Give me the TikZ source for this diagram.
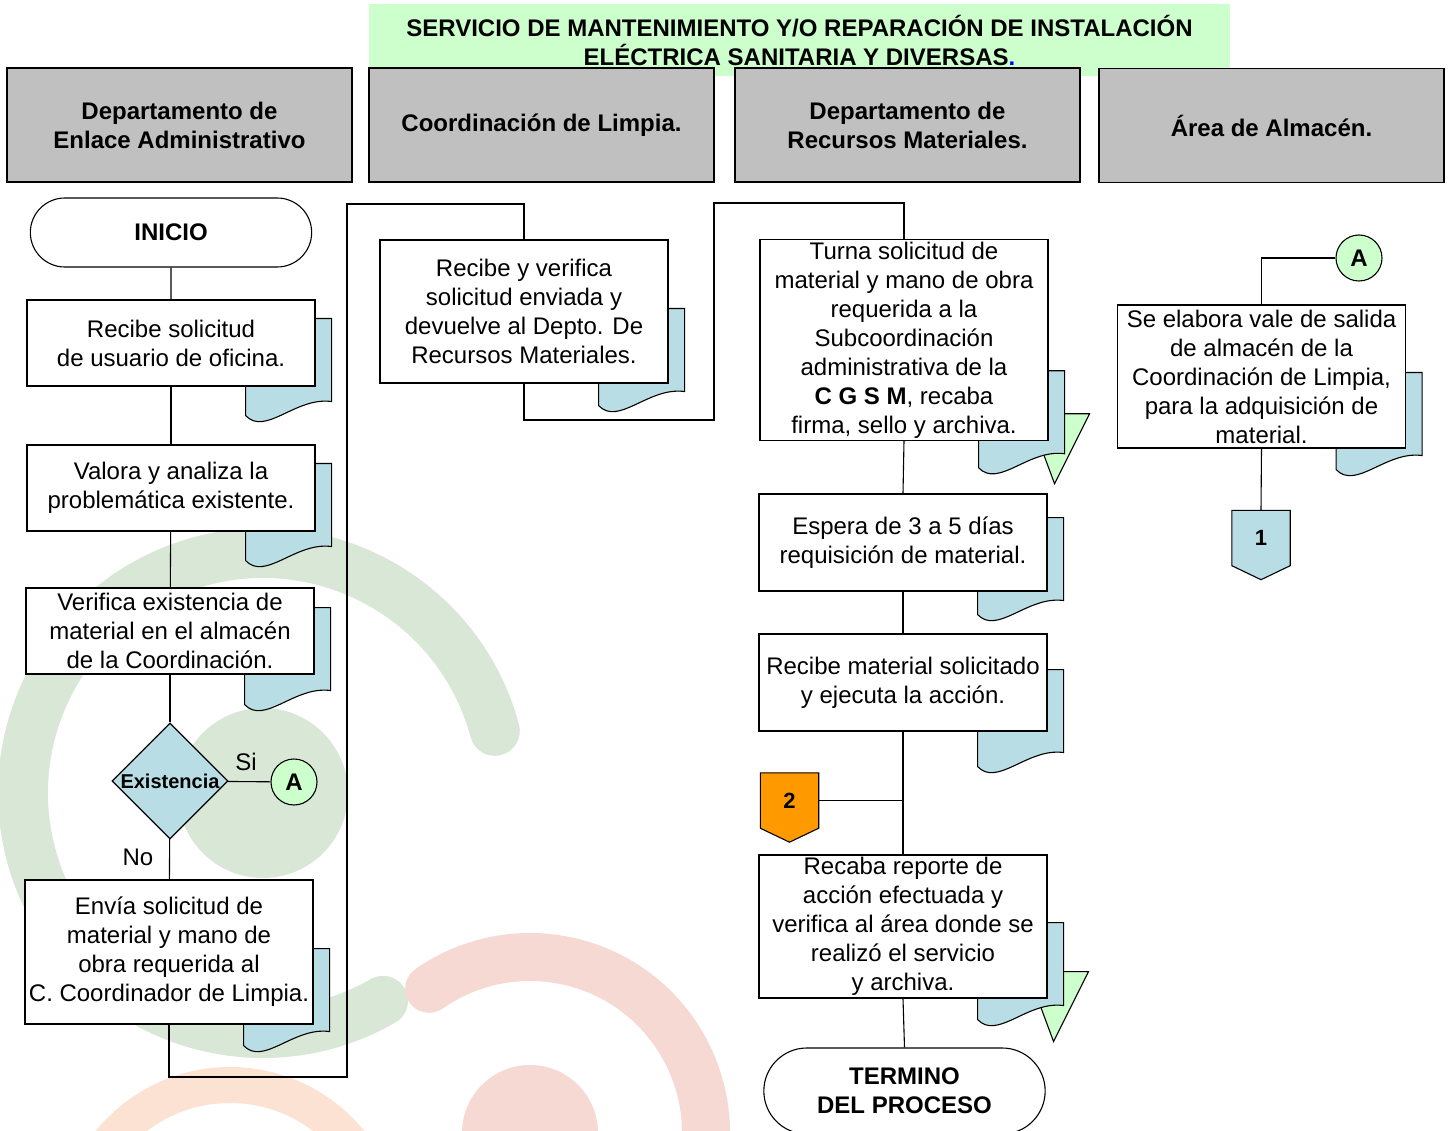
\documentclass[tikz,border=0pt]{standalone}
\usepackage{fontspec}
\setmainfont{Liberation Sans}
\usetikzlibrary{shapes.geometric,shapes.misc,calc}

\definecolor{mintbg}{HTML}{CCFFCC}
\definecolor{lanegray}{HTML}{C0C0C0}
\definecolor{sheetblue}{RGB}{185,221,228}
\definecolor{tagorange}{HTML}{FF9900}
\definecolor{wmgreen}{RGB}{217,231,215}
\definecolor{wmpink}{RGB}{246,217,211}
\definecolor{wmpeach}{RGB}{251,226,211}

\pgfdeclarelayer{watermark}
\pgfdeclarelayer{sheets}
\pgfsetlayers{watermark,sheets,main}

\newcommand{\bodyfont}{\fontsize{24}{29}\selectfont}

\begin{document}
\begin{tikzpicture}[x=1pt,y=-1pt,
  font=\bodyfont,
  every node/.style={align=center},
  titlebar/.style={fill=mintbg, minimum width=861pt, minimum height=72pt, inner sep=0pt, font=\bodyfont\bfseries},
  lane/.style={draw, fill=lanegray, line width=1.5pt, minimum width=345pt, minimum height=114pt, font=\bodyfont\bfseries},
  task/.style={draw, fill=white, line width=1.1pt, minimum width=288pt, inner sep=2pt},
  terminal/.style={draw, fill=white, rounded rectangle, line width=1.1pt, minimum width=288pt, font=\bodyfont\bfseries},
  decision/.style={draw, diamond, fill=sheetblue, line width=1.1pt, minimum width=116pt, minimum height=116pt, inner sep=0pt},
  joint/.style={draw, circle, fill=mintbg, line width=1.1pt, minimum size=46pt, inner sep=0pt, font=\bodyfont\bfseries},
  tag/.style={minimum width=58pt, minimum height=55pt, inner sep=0pt, font=\fontsize{22}{26}\selectfont\bfseries},
  flow/.style={line width=1.1pt},
  sheet/.style={draw, fill=sheetblue, line width=1.1pt},
  flag/.style={draw, fill=mintbg, line width=1.1pt}
]

% document sheet peeking out behind a box: #1 box, #2 rise above its lower edge
\newcommand{\docsheet}[2]{%
  \begin{pgfonlayer}{sheets}
  \coordinate (dk) at ($(#1.south east)+(-70,-#2)$);
  \draw[sheet] (dk) -- ($(dk)+(86,0)$) -- ($(dk)+(86,83)$)
    .. controls ($(dk)+(50,78)$) and ($(dk)+(20,118)$) .. ($(dk)+(0,97)$) -- cycle;
  \end{pgfonlayer}}
% green triangle behind the sheet
\newcommand{\flagtri}[1]{%
  \begin{pgfonlayer}{sheets}
  \draw[flag] ($(#1.south east)+(-20,-27)$) -- ($(#1.south east)+(41,-27)$)
    -- ($(#1.south east)+(6,43)$) -- cycle;
  \end{pgfonlayer}}
% off-page connector outline round a tag node
\newcommand{\tagshape}[2]{%
  \begin{pgfonlayer}{sheets}
  \draw[line width=1.1pt, fill=#2] (#1.north west) -- (#1.north east) -- (#1.south east)
    -- ($(#1.south)+(0,14)$) -- (#1.south west) -- cycle;
  \end{pgfonlayer}}

\useasboundingbox (0,0) rectangle (1449,1131);

% faded logo in the background
\begin{pgfonlayer}{watermark}
\begin{scope}
\clip (0,0) rectangle (1449,1131);
\draw[wmgreen, line width=50pt, line cap=round] (263,793) ++(-15:240) arc[start angle=-15, end angle=-300, radius=240];
\fill[wmgreen] (263,793) circle[radius=85];
\draw[wmpink, line width=48pt, line cap=round] (530,1133) ++(-125:176) arc[start angle=-125, end angle=30, radius=176];
\fill[wmpink] (530,1133) circle[radius=68];
\draw[wmpeach, line width=36pt] (230,1240) ++(0:155) arc[start angle=0, end angle=-180, radius=155];
\end{scope}
\end{pgfonlayer}

% title and lanes
\node[titlebar] (title) at (799.5,40) {SERVICIO DE MANTENIMIENTO Y/O REPARACIÓN DE INSTALACIÓN\\ELÉCTRICA SANITARIA Y DIVERSAS{\color{blue}.}};
\node[lane] (h1) at (179.5,125) {Departamento de\\Enlace Administrativo};
\node[lane] (h2) at (541.5,125) {Coordinación de Limpia.};
\node[lane] (h3) at (907.5,125) {Departamento de\\Recursos Materiales.};
\node[lane] (h4) at (1271.5,125.5) {Área de Almacén.};

% lane 1
\node[terminal, minimum height=69pt] (ini) at (171,232.5) {INICIO};
\node[task, minimum height=86pt] (b1) at (171,343) {Recibe solicitud\\de usuario de oficina.};
\node[task, minimum height=86pt] (b2) at (171,488) {Valora y analiza la\\problemática existente.};
\node[task, minimum height=86pt] (b3) at (170,631) {Verifica existencia de\\material en el almacén\\de la Coordinación.};
\node[decision, label={[font=\fontsize{20}{24}\selectfont\bfseries]center:Existencia}] (dia) at (170,781) {};
\node[joint] (a1) at (294,782) {A};
\node (si) at (246,762) {Si};
\node (no) at (138,857) {No};
\node[task, minimum height=144pt] (b4) at (169,952) {Envía solicitud de\\material y mano de\\obra requerida al\\C. Coordinador de Limpia.};

% lane 2
\node[task, minimum height=143pt] (b5) at (524,311.5) {Recibe y verifica\\solicitud enviada y\\devuelve al Depto. De\\Recursos Materiales.};

% lane 3
\node[task, minimum height=200pt] (b6) at (904,340) {Turna solicitud de\\material y mano de obra\\requerida a la\\Subcoordinación\\administrativa de la\\\textbf{C G S M}, recaba\\firma, sello y archiva.};
\node[task, minimum height=97pt] (b7) at (903,542.5) {Espera de 3 a 5 días\\requisición de material.};
\node[task, minimum height=97pt] (b8) at (903,682.5) {Recibe material solicitado\\y ejecuta la acción.};
\node[tag] (p2) at (789.5,800.5) {2};
\node[task, minimum height=143pt] (b9) at (903,926.5) {Recaba reporte de\\acción efectuada y\\verifica al área donde se\\realizó el servicio\\y archiva.};
\node[terminal, minimum height=86pt] (fin) at (904.5,1091) {TERMINO\\DEL PROCESO};

% lane 4
\node[joint] (a2) at (1359,258) {A};
\node[task, minimum height=143pt] (b10) at (1261.5,376.5) {Se elabora vale de salida\\de almacén de la\\Coordinación de Limpia,\\para la adquisición de\\material.};
\node[tag] (p1) at (1261,538) {1};

% sheets, flags and tags
\docsheet{b1}{68}
\docsheet{b2}{68}
\docsheet{b3}{67}
\docsheet{b4}{76}
\docsheet{b5}{75}
\flagtri{b6}
\docsheet{b6}{70}
\docsheet{b7}{74}
\docsheet{b8}{62}
\flagtri{b9}
\docsheet{b9}{76}
\docsheet{b10}{76}
\tagshape{p1}{sheetblue}
\tagshape{p2}{tagorange}

% connectors
\coordinate (k1) at (347,1077);
\coordinate (k2) at (347,204);
\coordinate (k3) at (714,420);
\coordinate (k4) at (714,203);
\draw[flow] (ini) -- (b1);
\draw[flow] (b1) -- (b2);
\draw[flow] (b2) -- (b3);
\draw[flow] (b3) -- (dia);
\draw[flow] (dia) -- (a1);
\draw[flow] (dia) -- (b4);
\draw[flow] (b4.south) |- (k1) -- (k2) -| (b5.north);
\draw[flow] (b5.south) |- (k3) -- (k4) -| (b6.north);
\draw[flow] (b6.south) -- (b7.north);
\draw[flow] (b7.south) -- (b8.north);
\draw[flow] (b8.south) -- (b9.north);
\draw[flow] (p2.east) -- (p2.east -| b9.north);
\draw[flow] (b9.south) -- (fin.north);
\draw[flow] (a2.west) -| (b10.north);
\draw[flow] (b10.south) -- (p1.north);

\end{tikzpicture}
\end{document}
